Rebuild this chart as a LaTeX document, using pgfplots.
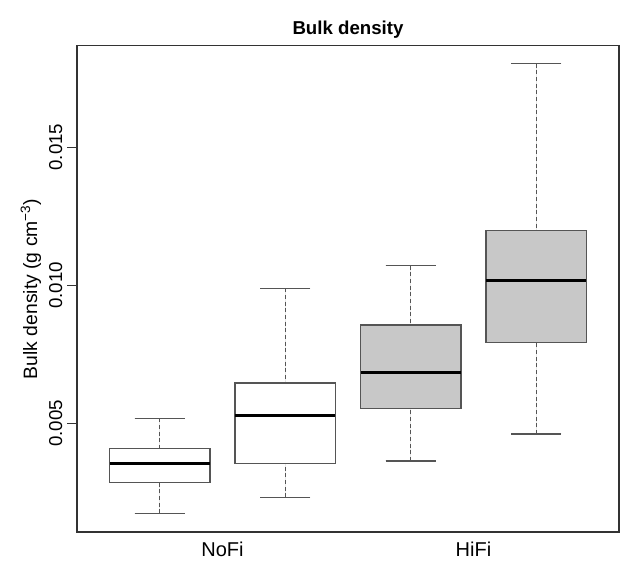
\documentclass[border=0pt]{standalone}
\usepackage{pgfplots}
\pgfplotsset{compat=1.18}
\usepgfplotslibrary{statistics}
\usepackage{fontspec}
\setmainfont{Liberation Sans}
\definecolor{boxedge}{HTML}{555555}
\definecolor{boxfill}{HTML}{C8C8C8}
\definecolor{frame}{HTML}{333333}
\begin{document}
\begin{tikzpicture}
% values in units of 0.001 g cm^-3
\begin{axis}[
  name=ax,
  scale only axis,
  width=406.5pt, height=364.7pt,
  xmin=0.34, xmax=4.66,
  ymin=1.07, ymax=18.67,
  axis line style={frame, line width=0.9pt},
  xtick={1.5,3.5},
  xticklabels={NoFi,HiFi},
  xtick style={draw=none},
  x tick label style={font=\fontsize{15}{18}\selectfont, anchor=base, yshift=-11pt},
  ytick={5,10,15},
  yticklabels={0.005,0.010,0.015},
  ytick pos=left,
  xtick pos=bottom,
  tick align=outside,
  major tick length=7.5pt,
  ytick style={frame, line width=0.6pt},
  yticklabel style={rotate=90, anchor=south, font=\fontsize{14}{16}\selectfont},
  ylabel={Bulk density (g cm\textsuperscript{\char"2212 3})},
  ylabel style={font=\fontsize{14.5}{17}\selectfont, at={(axis description cs:-0.085,0.5)}, anchor=center},
  title={\textbf{Bulk density}},
  title style={font=\fontsize{14}{16}\selectfont, at={(axis description cs:0.5,1)}, anchor=base, yshift=2.5pt},
  boxplot/draw direction=y,
  boxplot/box extend=0.8,
  boxplot/whisker extend=0.4,
  boxplot/every median/.style={line width=2.3pt, black},
  boxplot/draw/lower whisker/.code={
    \draw[boxedge, line width=0.9pt, dash pattern=on 3pt off 2pt] (boxplot box cs:\pgfplotsboxplotvalue{lower whisker},0.5) -- (boxplot box cs:\pgfplotsboxplotvalue{lower quartile},0.5);
    \draw[boxedge, line width=0.9pt] (boxplot whisker cs:\pgfplotsboxplotvalue{lower whisker},0) -- (boxplot whisker cs:\pgfplotsboxplotvalue{lower whisker},1);
  },
  boxplot/draw/upper whisker/.code={
    \draw[boxedge, line width=0.9pt, dash pattern=on 3pt off 2pt] (boxplot box cs:\pgfplotsboxplotvalue{upper whisker},0.5) -- (boxplot box cs:\pgfplotsboxplotvalue{upper quartile},0.5);
    \draw[boxedge, line width=0.9pt] (boxplot whisker cs:\pgfplotsboxplotvalue{upper whisker},0) -- (boxplot whisker cs:\pgfplotsboxplotvalue{upper whisker},1);
  },
]
\addplot[boxplot prepared={draw position=1, lower whisker=1.74, lower quartile=2.85, median=3.55, upper quartile=4.08, upper whisker=5.18}, draw=boxedge, fill=white, line width=0.9pt] coordinates {};
\addplot[boxplot prepared={draw position=2, lower whisker=2.33, lower quartile=3.55, median=5.30, upper quartile=6.46, upper whisker=9.89}, draw=boxedge, fill=white, line width=0.9pt] coordinates {};
\addplot[boxplot prepared={draw position=3, lower whisker=3.64, lower quartile=5.54, median=6.83, upper quartile=8.56, upper whisker=10.71}, draw=boxedge, fill=boxfill, line width=0.9pt] coordinates {};
\addplot[boxplot prepared={draw position=4, lower whisker=4.62, lower quartile=7.93, median=10.16, upper quartile=11.99, upper whisker=18.02}, draw=boxedge, fill=boxfill, line width=0.9pt] coordinates {};
\end{axis}
\pgfresetboundingbox
\useasboundingbox ([xshift=-57.75pt, yshift=-21pt]ax.south west) rectangle ([xshift=0.75pt, yshift=34.3pt]ax.north east);
\end{tikzpicture}
\end{document}
